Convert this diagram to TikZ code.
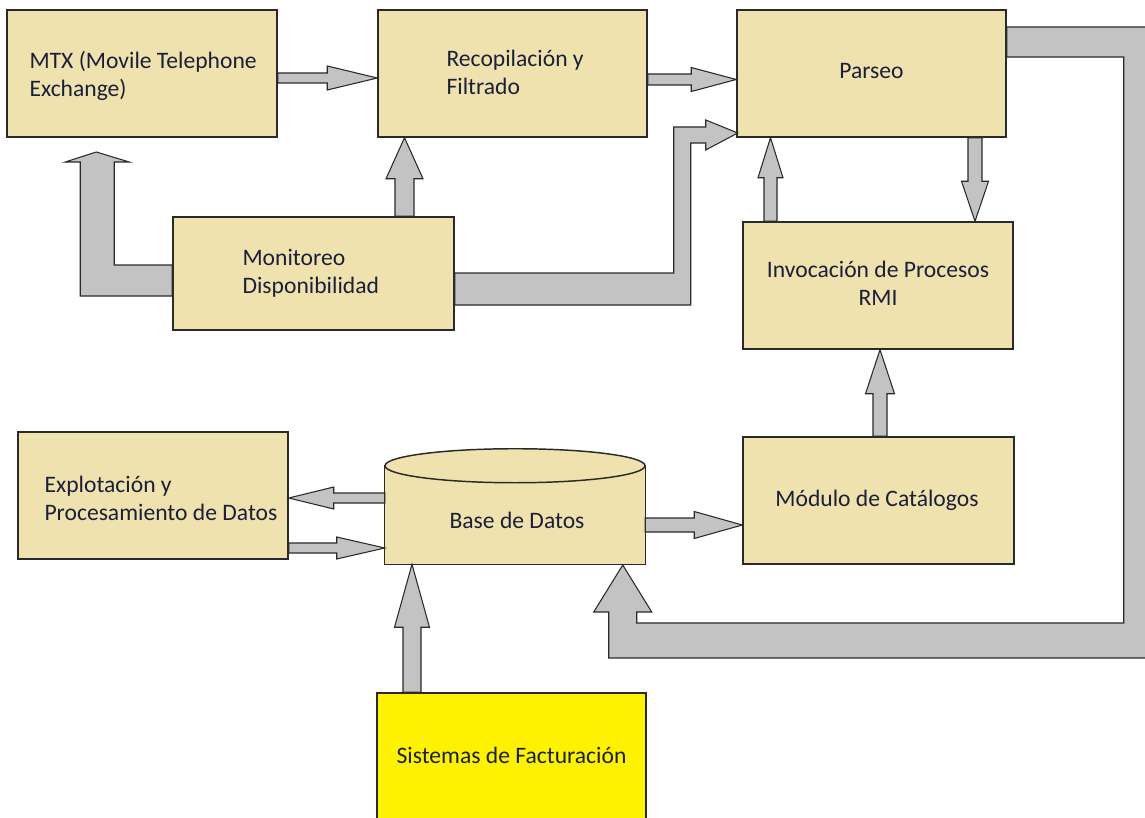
\documentclass[tikz,border=0pt]{standalone}
\usepackage{fontspec}
\setmainfont{Carlito}
\usetikzlibrary{calc}

\definecolor{boxfill}{HTML}{EFE2AE}
\definecolor{billfill}{HTML}{FFF200}
\definecolor{arrowfill}{HTML}{C3C3C3}
\definecolor{edge}{HTML}{2A2A2A}
\definecolor{txtcol}{HTML}{1A2038}

\tikzset{
  box/.style={draw=edge, line width=1.1pt, fill=boxfill, inner sep=0pt},
  txt/.style={font=\fontsize{17.7}{21}\selectfont, text=txtcol, inner sep=0pt},
  blk/.style={draw=edge, line width=0.8pt, fill=arrowfill, line join=miter},
}

% straight block arrow along a row: #1 start, #2 tip (same row),
% #3 shaft half width, #4 head half width, #5 offset of head base from tip
\newcommand\hblk[5]{%
  \draw[blk] ($#1+(0,-#3)$) -- ($#2+(#5,-#3)$) -- ($#2+(#5,-#4)$) -- #2
    -- ($#2+(#5,#4)$) -- ($#2+(#5,#3)$) -- ($#1+(0,#3)$) -- cycle;}
% same along a column
\newcommand\vblk[5]{%
  \draw[blk] ($#1+(-#3,0)$) -- ($#2+(-#3,#5)$) -- ($#2+(-#4,#5)$) -- #2
    -- ($#2+(#4,#5)$) -- ($#2+(#3,#5)$) -- ($#1+(#3,0)$) -- cycle;}

\begin{document}
\begin{tikzpicture}[x=0.75pt, y=-0.75pt]
\useasboundingbox (0,0) rectangle (1145,817);

% ---- blocks ----
\node[box, minimum width=270*0.75pt, minimum height=127*0.75pt] (mtx)    at (142,73.5)   {};
\node[box, minimum width=269*0.75pt, minimum height=127*0.75pt] (recop)  at (512.5,73.5) {};
\node[box, minimum width=269*0.75pt, minimum height=127*0.75pt] (parseo) at (871.5,73.5) {};
\node[box, minimum width=281*0.75pt, minimum height=113*0.75pt] (mon)    at (313.5,273.5) {};
\node[box, minimum width=270*0.75pt, minimum height=127*0.75pt] (invoc)  at (878,285.5)  {};
\node[box, minimum width=270*0.75pt, minimum height=127*0.75pt] (explot) at (153,495.5)  {};
\node[box, minimum width=271*0.75pt, minimum height=127*0.75pt] (modulo) at (878.5,500.5) {};
\node[box, fill=billfill, minimum width=269*0.75pt, minimum height=137*0.75pt] (sis) at (511.5,761.5) {};

% database drum: flat body with an elliptical lid
\node[minimum width=260*0.75pt, minimum height=115*0.75pt, inner sep=0pt] (base) at (515,506.5) {};
\draw[box] (base.south west) -- ($(base.north west)+(0,17)$)
  -- ($(base.north east)+(0,17)$) -- (base.south east) -- cycle;
\draw[box] ($(base.north)+(0,17)$) ellipse [x radius=97.5pt, y radius=12.75pt];

% ---- labels ----
\node[txt, anchor=west, align=left] (mtx-t)    at ($(mtx.west)+(23,2.5)$)   {MTX (Movile Telephone\\Exchange)};
\node[txt, anchor=west, align=left] (recop-t)  at ($(recop.west)+(69,-1)$)  {Recopilación y\\Filtrado};
\node[txt] (parseo-t) at ($(parseo.center)+(0,-2.5)$) {Parseo};
\node[txt, anchor=west, align=left] (mon-t)    at ($(mon.west)+(70,-0.5)$)  {Monitoreo\\Disponibilidad};
\node[txt, align=center] (invoc-t)  at ($(invoc.center)+(0,-2.5)$) {Invocación de Procesos\\RMI};
\node[txt, anchor=west, align=left] (explot-t) at ($(explot.west)+(27,3)$)  {Explotación y\\Procesamiento de Datos};
\node[txt] (base-t)   at ($(base.center)+(2,13.5)$) {Base de Datos};
\node[txt] (modulo-t) at ($(modulo.center)+(-1.5,0)$) {Módulo de Catálogos};
\node[txt] (sis-t)    at ($(sis.center)+(0,-6.5)$) {Sistemas de Facturación};

% ---- straight connectors ----
\coordinate (a1) at ($(mtx.east)+(0,4.5)$);
\hblk{(a1)}{(recop.west |- a1)}{5}{12}{-50}
\coordinate (a2) at ($(recop.east)+(0,6)$);
\hblk{(a2)}{(parseo.west |- a2)}{5.5}{12}{-45}
\coordinate (a4) at ($(mon.north)+(91,0)$);
\vblk{(a4)}{(a4 |- recop.south)}{9.5}{18.5}{41}
\coordinate (a6) at ($(parseo.south)+(103.5,0)$);
\vblk{(a6)}{(a6 |- invoc.north)}{7}{13.5}{-40}
\coordinate (a7) at ($(invoc.north)+(-107.5,0)$);
\vblk{(a7)}{(a7 |- parseo.south)}{6.5}{12.5}{40}
\coordinate (a9) at ($(base.west)+(0,-8.5)$);
\hblk{(a9)}{(explot.east |- a9)}{5}{11}{45}
\coordinate (a10) at ($(explot.east)+(0,52.5)$);
\hblk{(a10)}{(base.west |- a10)}{5}{11}{-48}
\coordinate (a11) at ($(base.east)+(0,18.5)$);
\hblk{(a11)}{(modulo.west |- a11)}{7}{13.5}{-48}
\coordinate (a12) at ($(sis.north)+(-99.5,0)$);
\vblk{(a12)}{(a12 |- base.south)}{9}{17.5}{63}
\coordinate (a13) at ($(modulo.north)+(1.5,0)$);
\vblk{(a13)}{(a13 |- invoc.south)}{7}{14.5}{44}

% ---- bent connectors ----
% Monitoreo -> MTX
\draw[blk] ($(mon.west)+(0,-8.5)$) -- ++(-58,0) -- ++(0,-103) -- ++(15,0)
  -- ++(-33,-10) -- ++(-31,10) -- ++(15,0) -- ++(0,134) -- ++(92,0) -- cycle;
% Monitoreo -> Parseo
\draw[blk] ($(mon.east)+(0,-0.5)$) -- ++(219,0) -- ++(0,-146) -- ++(32,0)
  -- ++(0,-7) -- ++(32,13) -- ++(-32,17) -- ++(0,-7) -- ++(-15,0)
  -- ++(0,162) -- ++(-236,0) -- cycle;
% Parseo -> Base de Datos
\draw[blk] ($(parseo.east)+(0,-46.5)$) -- ++(144,0) -- ++(0,631) -- ++(-542,0)
  -- ++(0,-46) -- ++(-15,0) -- ++(29,-47) -- ++(29,47) -- ++(-15,0)
  -- ++(0,11) -- ++(487,0) -- ++(0,-566) -- ++(-117,0) -- cycle;
\end{tikzpicture}
\end{document}
